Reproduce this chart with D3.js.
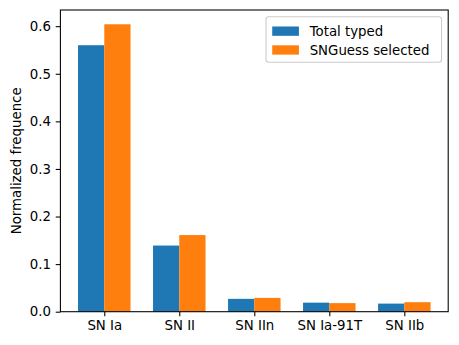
<!DOCTYPE html>
<html lang="en">
<head>
    <meta charset="UTF-8">
    <title>SN types</title>
    <script src="https://d3js.org/d3.v7.min.js"></script>
    <style>
        body { margin: 0; background: #fff; }
        text { font-family: "DejaVu Sans", sans-serif; }
        .axis text { font-size: 13.33px; fill: #000; font-family: "DejaVu Sans", sans-serif; }
        .axis path, .axis line { stroke: #000; stroke-width: 1.07px; }
    </style>
</head>
<body>
    <div id="chart"></div>
    <script>
        const categories = ["SN Ia", "SN II", "SN IIn", "SN Ia-91T", "SN IIb"];
        const totalTyped = [0.560, 0.139, 0.027, 0.019, 0.017];
        const snguessSelected = [0.604, 0.161, 0.029, 0.018, 0.020];
        const yTicks = [0.0, 0.1, 0.2, 0.3, 0.4, 0.5, 0.6];
        const seriesNames = ["Total typed", "SNGuess selected"];
        const colors = ["#1f77b4", "#ff7f0e"];

        const width = 459, height = 345;
        const margin = { left: 60.4, right: 448.2, top: 10, bottom: 311.7 };
        const barW = 0.35;

        const svg = d3.select("#chart").append("svg")
            .attr("width", width).attr("height", height);

        const x = d3.scaleLinear().domain([-0.585, 4.585]).range([margin.left, margin.right]);
        const y = d3.scaleLinear().domain([0, 0.634]).range([margin.bottom, margin.top]);

        const series = [totalTyped, snguessSelected];
        series.forEach((vals, s) => {
            svg.append("g").selectAll("rect")
                .data(vals)
                .join("rect")
                .attr("x", (d, i) => x(i + (s === 0 ? -barW : 0)))
                .attr("width", x(barW) - x(0))
                .attr("y", d => y(d))
                .attr("height", d => y(0) - y(d))
                .attr("fill", colors[s]);
        });

        const xAxis = svg.append("g").attr("class", "axis")
            .attr("transform", `translate(0,${margin.bottom})`)
            .call(d3.axisBottom(x).tickValues(d3.range(categories.length))
                .tickFormat(i => categories[i]).tickSize(4.67).tickPadding(4.67));
        xAxis.select(".domain").remove();

        const yAxis = svg.append("g").attr("class", "axis")
            .attr("transform", `translate(${margin.left},0)`)
            .call(d3.axisLeft(y).tickValues(yTicks).tickFormat(d3.format(".1f"))
                .tickSize(4.67).tickPadding(4.67));
        yAxis.select(".domain").remove();

        // frame
        svg.append("rect")
            .attr("x", margin.left).attr("y", margin.top)
            .attr("width", margin.right - margin.left).attr("height", margin.bottom - margin.top)
            .attr("fill", "none").attr("stroke", "#000").attr("stroke-width", 1.07);

        svg.append("text")
            .attr("transform", `translate(21.4,${(margin.top + margin.bottom) / 2}) rotate(-90)`)
            .attr("text-anchor", "middle")
            .attr("font-size", "13.33px")
            .text("Normalized frequence");

        // legend
        const fs = 13.33;
        const lg = svg.append("g");
        const lgW = 175.5, lgH = 45.5;
        const lgX = margin.right - 6.67 - lgW, lgY = margin.top + 6.67;
        lg.append("rect")
            .attr("x", lgX).attr("y", lgY).attr("width", lgW).attr("height", lgH)
            .attr("rx", 2.7).attr("fill", "#fff").attr("fill-opacity", 0.8)
            .attr("stroke", "#cccccc").attr("stroke-width", 1.07);
        seriesNames.forEach((name, i) => {
            const cy = lgY + 14.5 + i * 18.8;
            lg.append("rect")
                .attr("x", lgX + 6.2).attr("y", cy - 4.67)
                .attr("width", 26.7).attr("height", 9.33)
                .attr("fill", colors[i]);
            lg.append("text")
                .attr("x", lgX + 6.2 + 26.7 + 10.7).attr("y", cy)
                .attr("dy", "0.35em")
                .attr("font-size", fs + "px")
                .text(name);
        });
    </script>
</body>
</html>
